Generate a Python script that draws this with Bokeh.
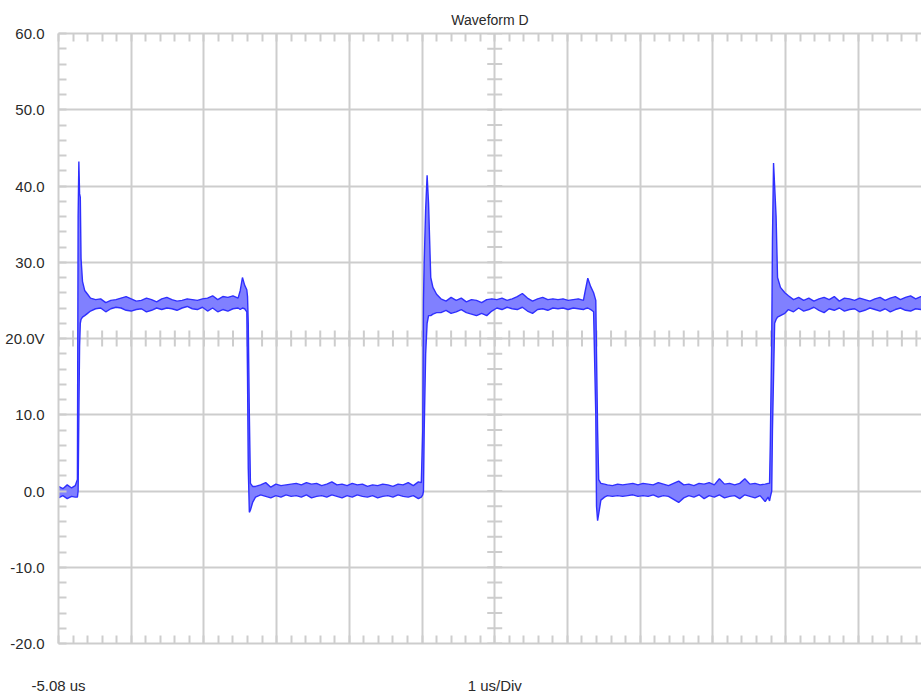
import numpy as np
from bokeh.plotting import figure
from bokeh.models import Range1d, LinearAxis, FixedTicker
from bokeh.embed import file_html
from bokeh.resources import INLINE

# ---------------- data ----------------
title_text = "Waveform D"
y_ticks = [-20, -10, 0, 10, 20, 30, 40, 50, 60]
y_tick_labels = ["-20.0", "-10.0", "0.0", "10.0", "20.0V", "30.0", "40.0", "50.0", "60.0"]
x_label_pos = [-5.08, 0.92]
x_label_text = ["-5.08 us", "1 us/Div"]

# segment A: initial low level + rising edge 1
tA = [-5.08, -5.02, -4.96, -4.90, -4.85, -4.82, -4.81, -4.80, -4.79, -4.78, -4.77, -4.75, -4.72, -4.68]
hiA = [0.6, 0.3, 0.8, 0.4, 0.7, 1.5, 36.0, 43.2, 39.0, 38.5, 30.5, 27.5, 26.3, 25.8]
loA = [-0.9, -0.6, -1.0, -0.7, -0.8, -0.8, 0.0, 10.0, 19.0, 22.0, 22.5, 22.8, 23.0, 23.3]

# segment B: high plateau 1
tB = [-4.64, -4.57, -4.50, -4.43, -4.36, -4.29, -4.22, -4.15, -4.08, -4.01, -3.94, -3.87, -3.80, -3.73, -3.66,
      -3.59, -3.52, -3.45, -3.38, -3.31, -3.24, -3.17, -3.10, -3.03, -2.96, -2.89, -2.82, -2.75, -2.68, -2.61]
hiB = [25.3, 25.1, 25.2, 24.7, 25.0, 25.1, 25.3, 25.5, 25.2, 24.9, 25.0, 25.3, 25.1, 24.8, 25.2,
       25.4, 25.1, 24.9, 25.0, 25.2, 25.1, 25.0, 25.2, 25.3, 25.6, 25.1, 25.5, 25.4, 25.6, 25.3]
loB = [23.6, 23.9, 24.0, 23.5, 23.9, 24.1, 24.0, 23.7, 23.6, 23.8, 23.9, 23.5, 23.7, 24.0, 23.8,
       24.0, 23.9, 23.7, 24.0, 24.2, 23.9, 23.8, 24.1, 23.6, 24.0, 23.5, 23.8, 23.6, 23.9, 24.0]

# segment C: overshoot + falling edge 1
tC = [-2.58, -2.55, -2.52, -2.49, -2.48, -2.47, -2.455, -2.44, -2.41]
hiC = [26.3, 28.0, 27.0, 26.4, 25.5, 22.0, 10.0, 1.0, 0.6]
loC = [23.8, 24.0, 23.9, 23.5, 15.0, 3.0, -2.8, -2.5, -1.5]

# segment D: low plateau 1
tD = [-2.37, -2.30, -2.23, -2.16, -2.09, -2.02, -1.95, -1.88, -1.81, -1.74, -1.67, -1.60, -1.53, -1.46, -1.39,
      -1.32, -1.25, -1.18, -1.11, -1.04, -0.97, -0.90, -0.83, -0.76, -0.69, -0.62, -0.55, -0.48, -0.41, -0.34,
      -0.27, -0.20, -0.13]
hiD = [0.6, 0.8, 1.1, 0.5, 0.9, 0.7, 0.8, 0.9, 1.0, 0.8, 1.1, 0.9, 1.0, 0.7, 0.9,
       1.2, 0.8, 0.9, 0.7, 1.0, 0.8, 0.9, 0.6, 0.8, 0.7, 0.9, 0.8, 0.6, 0.9, 0.8,
       1.1, 0.7, 1.2]
loD = [-0.8, -0.5, -0.7, -0.9, -0.6, -0.8, -0.5, -0.7, -0.6, -0.8, -0.5, -0.9, -0.7, -0.6, -0.8,
       -0.5, -0.7, -0.9, -0.6, -0.8, -0.5, -0.7, -0.8, -0.6, -0.9, -0.7, -0.6, -0.8, -0.5, -0.7,
       -0.8, -0.6, -1.0]

# segment E: rising edge 2
tE = [-0.09, -0.07, -0.06, -0.05, -0.03, -0.01, 0.01, 0.04, 0.07, 0.12]
hiE = [1.1, 8.0, 25.0, 30.0, 37.0, 41.4, 37.7, 28.0, 26.7, 25.8]
loE = [-0.8, -0.5, 0.0, 8.0, 18.0, 22.0, 23.0, 23.0, 23.2, 23.4]

# segment F: high plateau 2
tF = [0.18, 0.25, 0.32, 0.39, 0.46, 0.53, 0.60, 0.67, 0.74, 0.81, 0.88, 0.95, 1.02, 1.09, 1.16,
      1.23, 1.30, 1.37, 1.44, 1.51, 1.58, 1.65, 1.72, 1.79, 1.86, 1.93, 2.00, 2.07, 2.14]
hiF = [25.2, 24.9, 25.4, 25.0, 25.3, 24.8, 25.1, 25.0, 24.7, 25.1, 25.2, 25.1, 25.3, 25.0, 25.2,
       25.5, 25.9, 25.3, 24.9, 25.2, 25.4, 25.1, 25.2, 25.1, 25.2, 25.0, 25.1, 25.2, 25.0]
loF = [23.4, 23.7, 23.3, 23.5, 23.8, 23.4, 23.2, 23.0, 23.3, 23.0, 23.6, 24.0, 23.8, 24.1, 23.9,
       23.8, 24.1, 23.6, 23.3, 23.8, 23.9, 23.7, 24.0, 23.9, 24.0, 23.8, 24.0, 23.9, 23.8]

# segment G: overshoot + falling edge 2
tG = [2.16, 2.20, 2.24, 2.28, 2.31, 2.32, 2.335, 2.35, 2.38, 2.43]
hiG = [26.0, 27.9, 26.8, 26.0, 25.0, 18.0, 8.0, 1.5, 1.0, 0.9]
loG = [23.9, 24.0, 23.8, 23.5, 10.0, -2.0, -3.9, -3.0, -1.2, -0.8]

# segment H: low plateau 2
tH = [2.47, 2.54, 2.61, 2.68, 2.75, 2.82, 2.89, 2.96, 3.03, 3.10, 3.17, 3.24, 3.31, 3.38, 3.45,
      3.52, 3.59, 3.66, 3.73, 3.80, 3.87, 3.94, 4.01, 4.08, 4.15, 4.22, 4.29, 4.36, 4.43, 4.50,
      4.57, 4.64, 4.68]
hiH = [0.8, 0.7, 0.9, 0.8, 0.9, 1.0, 0.8, 1.0, 0.9, 0.8, 1.1, 0.9, 0.7, 1.0, 1.3,
       0.8, 0.9, 0.7, 1.0, 0.9, 1.1, 0.8, 1.6, 0.9, 1.0, 0.8, 1.0, 1.6, 0.9, 1.0,
       0.8, 0.9, 1.0]
loH = [-0.6, -0.7, -0.6, -0.7, -0.6, -0.5, -0.7, -0.6, -0.7, -0.5, -0.8, -0.6, -0.7, -1.1, -1.5,
       -0.9, -0.6, -0.8, -0.5, -1.0, -0.6, -0.8, -0.5, -0.9, -0.7, -0.6, -1.0, -0.5, -0.7, -0.9,
       -0.6, -1.4, -0.8]

# segment I: rising edge 3
tI = [4.70, 4.71, 4.73, 4.74, 4.755, 4.77, 4.79, 4.81, 4.85, 4.91]
hiI = [1.0, 6.0, 20.0, 33.0, 43.0, 40.0, 36.0, 28.0, 26.7, 26.0]
loI = [-1.3, -0.8, 0.0, 8.0, 15.0, 22.0, 22.5, 22.8, 23.0, 23.3]

# segment J: high plateau 3
tJ = [4.96, 5.03, 5.10, 5.17, 5.24, 5.31, 5.38, 5.45, 5.52, 5.59, 5.66, 5.73, 5.80, 5.87, 5.94,
      6.01, 6.08, 6.15, 6.22, 6.29, 6.36, 6.43, 6.50, 6.57, 6.64, 6.71, 6.78, 6.85]
hiJ = [25.6, 25.1, 25.4, 25.0, 25.3, 24.9, 25.2, 25.4, 25.1, 25.5, 24.9, 25.3, 25.2, 25.0, 25.3,
       25.1, 24.9, 25.2, 25.4, 25.0, 25.3, 25.5, 25.1, 25.4, 25.6, 25.2, 25.5, 25.3]
loJ = [23.8, 23.5, 24.0, 23.6, 23.8, 24.1, 23.7, 23.4, 23.9, 23.7, 24.0, 23.6, 23.8, 23.9, 23.5,
       23.7, 24.0, 23.8, 23.6, 23.9, 23.5, 23.8, 24.0, 23.7, 23.6, 23.9, 23.8, 23.6]

t_us = np.array(tA + tB + tC + tD + tE + tF + tG + tH + tI + tJ)
v_max = np.array(hiA + hiB + hiC + hiD + hiE + hiF + hiG + hiH + hiI + hiJ)
v_min = np.array(loA + loB + loC + loD + loE + loF + loG + loH + loI + loJ)

# ---------------- figure ----------------
X0, DIV = -5.08, 1.0
x_start, x_end = X0, 6.79
y_start, y_end = -20, 60

GRID = "#cdcdcd"
TEXT = "#2a2a2a"
FONT = "Liberation Sans"

p = figure(width=921, height=696, output_backend="svg", toolbar_location=None,
           x_range=Range1d(x_start, x_end), y_range=Range1d(y_start, y_end),
           x_axis_location=None, y_axis_location=None,
           min_border_left=58, min_border_right=0, min_border_top=33, min_border_bottom=53,
           title=title_text)
p.outline_line_color = None
p.background_fill_color = "white"
p.border_fill_color = "white"

p.title.align = "center"
p.title.vertical_align = "middle"
p.title.offset = 8
p.title.text_font = FONT
p.title.text_font_size = "14px"
p.title.text_font_style = "normal"
p.title.text_color = TEXT
p.title.standoff = 10

x_grid = [X0 + k * DIV for k in range(0, 13)]
x_minor = [X0 + k * DIV / 5 for k in range(0, 61)]
y_minor = list(range(-20, 61, 2))

# grids
p.xgrid.ticker = FixedTicker(ticks=x_grid)
p.ygrid.ticker = FixedTicker(ticks=y_ticks)
for g in (p.xgrid, p.ygrid):
    g.grid_line_color = GRID
    g.grid_line_width = 2

# left axis
yax = LinearAxis(ticker=FixedTicker(ticks=y_ticks, minor_ticks=y_minor),
                 major_label_overrides={v: s for v, s in zip(y_ticks, y_tick_labels)})
yax.axis_line_color = GRID
yax.axis_line_width = 2
yax.major_tick_in = 0
yax.major_tick_out = 0
yax.minor_tick_in = 8
yax.minor_tick_out = 0
yax.minor_tick_line_color = GRID
yax.minor_tick_line_width = 2
yax.major_label_standoff = 14
yax.major_label_text_font = FONT
yax.major_label_text_font_size = "15px"
yax.major_label_text_color = TEXT
p.add_layout(yax, "left")

# bottom axis
xax = LinearAxis(ticker=FixedTicker(ticks=x_label_pos, minor_ticks=x_minor),
                 major_label_overrides={v: s for v, s in zip(x_label_pos, x_label_text)})
xax.axis_line_color = GRID
xax.axis_line_width = 2
xax.major_tick_in = 0
xax.major_tick_out = 0
xax.minor_tick_in = 8
xax.minor_tick_out = 0
xax.minor_tick_line_color = GRID
xax.minor_tick_line_width = 2
xax.major_label_standoff = 33
xax.major_label_text_font = FONT
xax.major_label_text_font_size = "15px"
xax.major_label_text_color = TEXT
p.add_layout(xax, "below")

# top axis (ticks only)
tax = LinearAxis(ticker=FixedTicker(ticks=[], minor_ticks=x_minor))
tax.axis_line_color = GRID
tax.axis_line_width = 2
tax.major_tick_in = 0
tax.major_tick_out = 0
tax.minor_tick_in = 8
tax.minor_tick_out = 0
tax.minor_tick_line_color = GRID
tax.minor_tick_line_width = 2
tax.major_label_standoff = 0
tax.major_label_text_font_size = "0px"
p.add_layout(tax, "above")

# centre cross ticks
x_center = X0 + 6 * DIV
y_center = 20
p.scatter(x=[x_center] * len(y_minor), y=y_minor, marker="dash", size=15,
          line_color=GRID, line_width=2)
p.scatter(x=x_minor, y=[y_center] * len(x_minor), marker="dash", angle=np.pi / 2, size=16,
          line_color=GRID, line_width=2)

# waveform envelope
p.varea(x=t_us, y1=v_min, y2=v_max, fill_color="#8080ff", fill_alpha=1.0)
p.line(t_us, v_max, line_color="#2f2fff", line_width=1.4)
p.line(t_us, v_min, line_color="#2f2fff", line_width=1.4)

open("out.html", "w").write(file_html(p, INLINE))
